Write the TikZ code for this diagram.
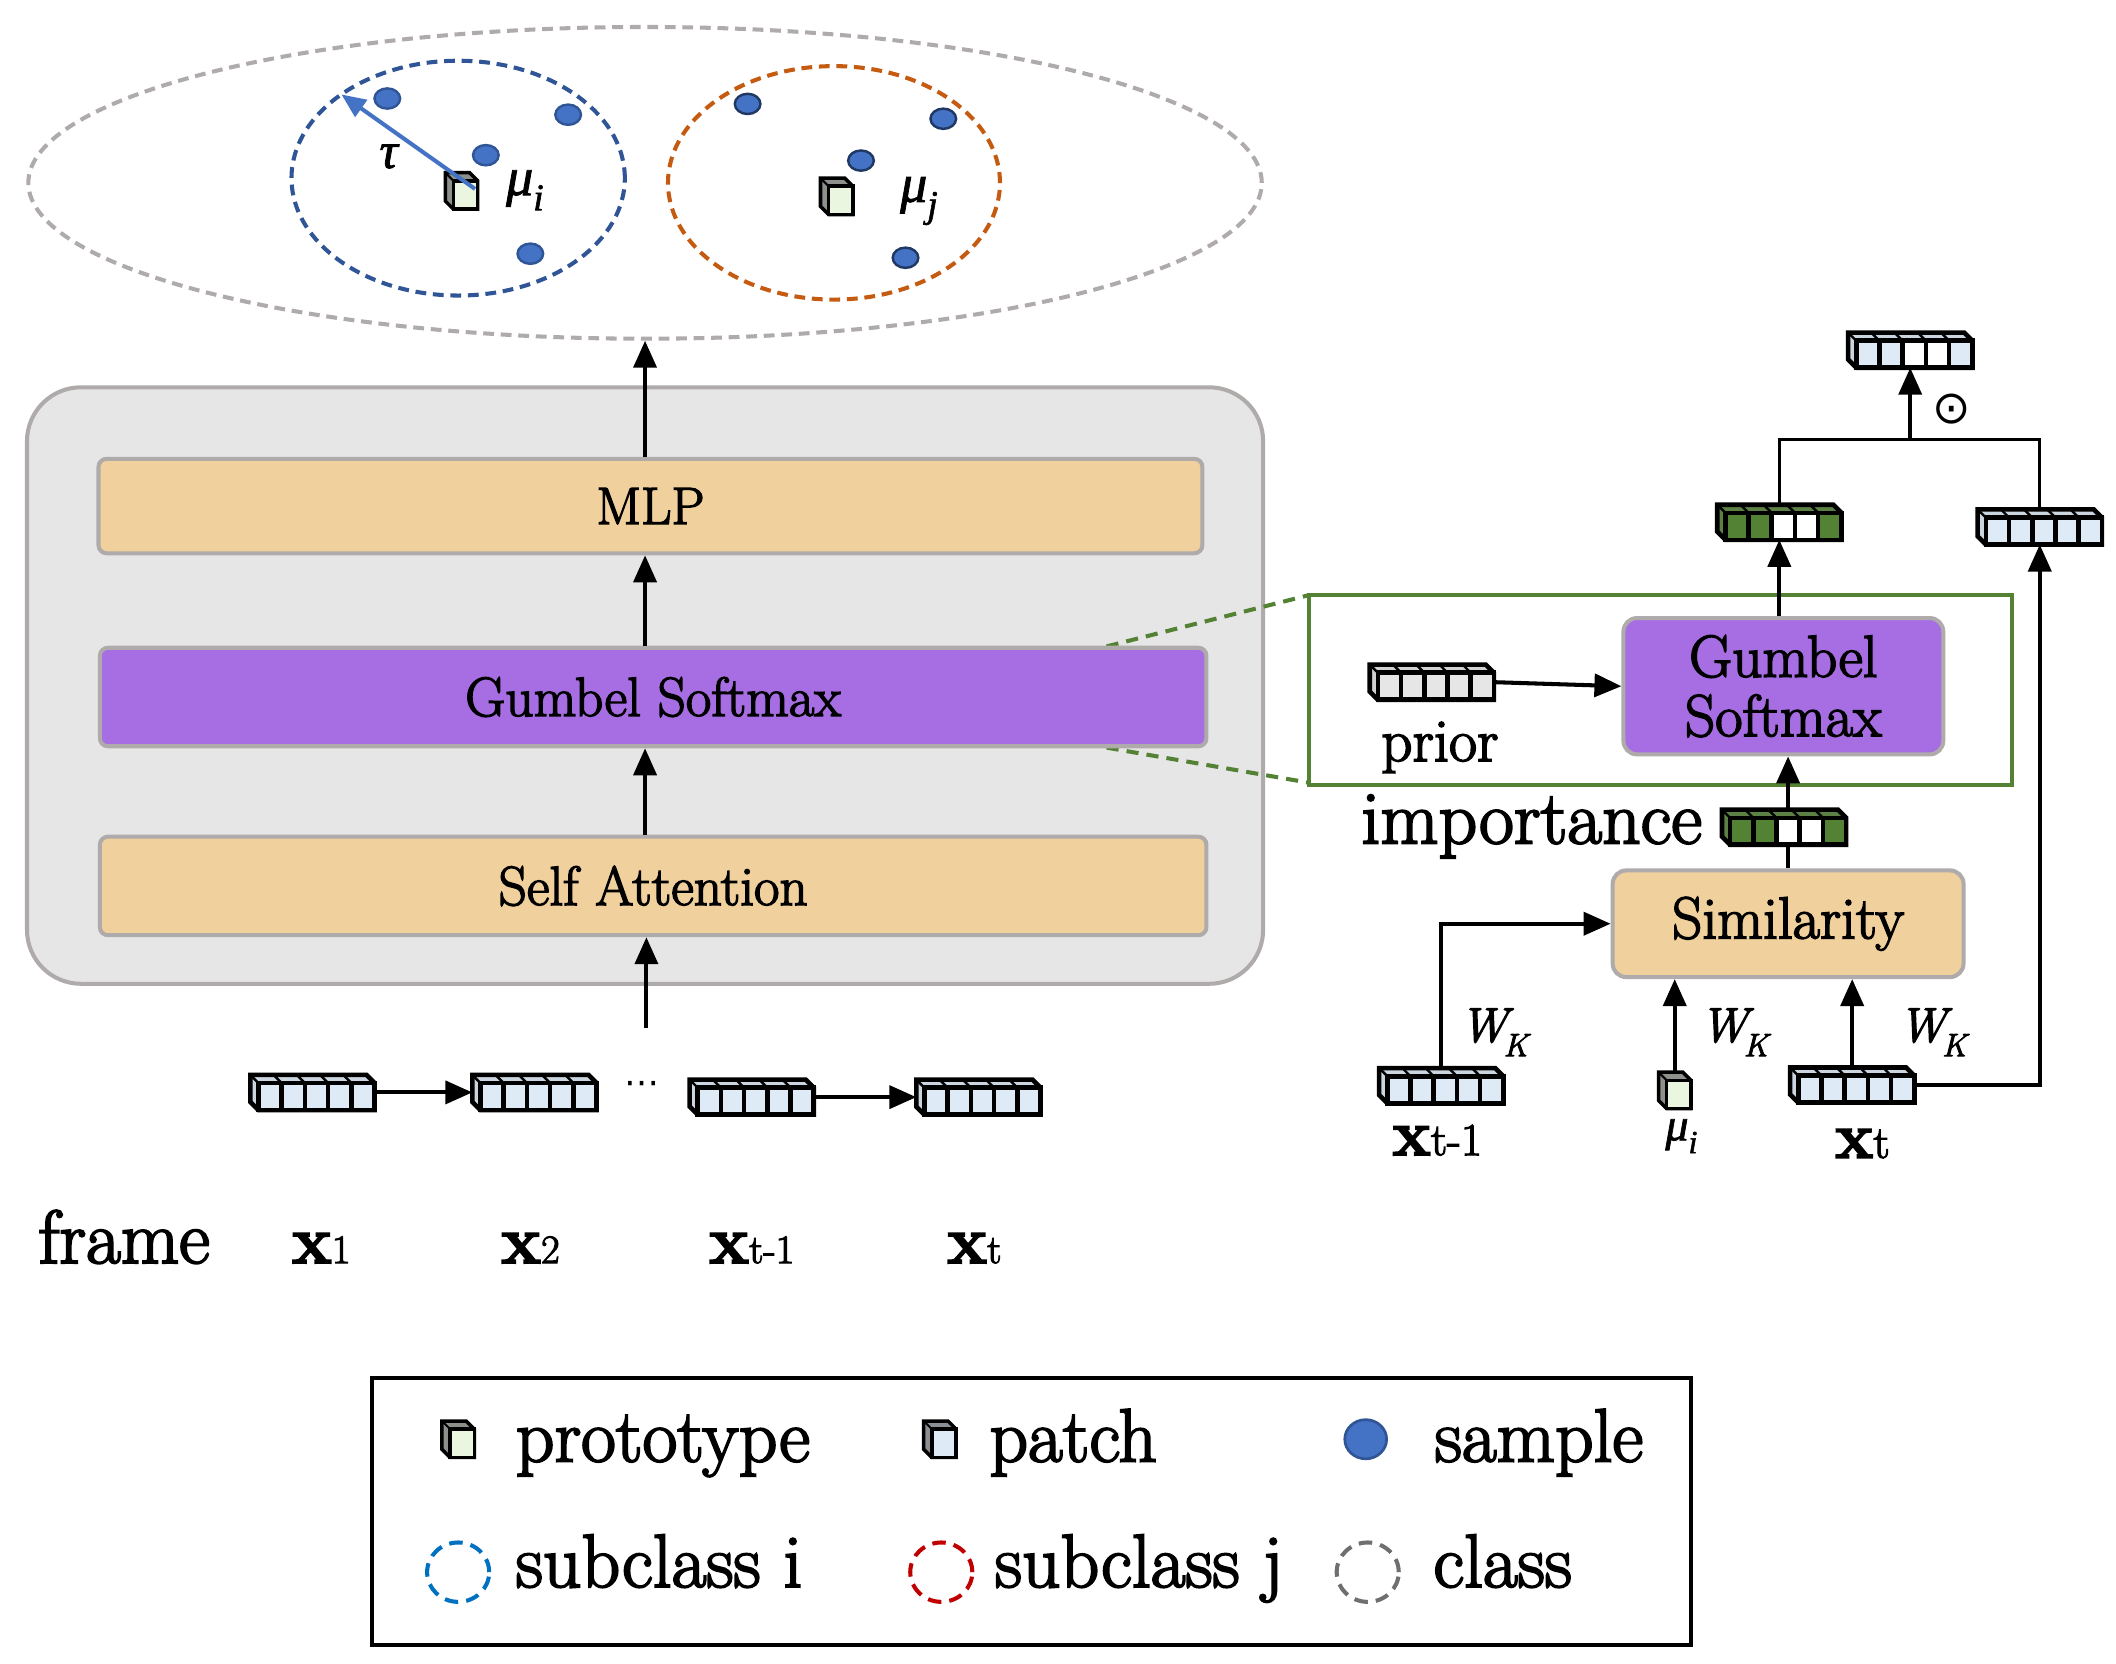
\documentclass[tikz,border=0pt]{standalone}
\usepackage{fontspec}
\setmainfont{Latin Modern Roman}[FakeBold=2.6]
\newfontfamily\grk{Liberation Serif}[FakeBold=1.5]
\newfontfamily\djv{DejaVu Sans}
\usetikzlibrary{arrows.meta,shapes.geometric}
\definecolor{peach}{HTML}{F0D09C}
\definecolor{purp}{HTML}{A66EE2}
\definecolor{cgray}{HTML}{AFABAB}
\definecolor{graybg}{HTML}{E7E6E6}
\definecolor{lblue}{HTML}{DEEBF7}
\definecolor{ggreen}{HTML}{548235}
\definecolor{lgray}{HTML}{E7E6E6}
\definecolor{sblue}{HTML}{4472C4}
\definecolor{dblue}{HTML}{2F5597}
\definecolor{navy}{HTML}{1F3864}
\definecolor{orng}{HTML}{C55A11}
\definecolor{pgreen}{HTML}{EBF6E0}
\definecolor{lgblue}{HTML}{0070C0}
\definecolor{lred}{HTML}{C00000}
\definecolor{lgr}{HTML}{6F6F6F}
\newcommand{\fsz}[1]{\fontsize{#1}{#1}\selectfont}
\newcommand{\gmu}[3]{{\fsz{#1}\grk\itshape μ\raisebox{-0.28em}{\fsz{#2}#3}}}
\newcommand{\wk}[1]{{\fsz{#1}\itshape W\kern-0.08em\raisebox{-0.3em}{\fsz{24}K}}}
\tikzset{
  pbox/.style={draw=cgray, line width=3pt, rounded corners=6pt, inner sep=0pt},
  arr/.style={line width=3pt, -{Triangle[length=20pt,width=17pt]}},
  thinln/.style={line width=2.2pt},
  barnode/.style={minimum width=92pt, minimum height=26pt, inner sep=0pt, outer sep=0pt},
  cubenode/.style={minimum width=24pt, minimum height=27pt, inner sep=0pt, outer sep=0pt},
  barline/.style={line width=3.4pt, line join=miter},
  smp/.style={ellipse, fill=sblue, draw=dblue, line width=1.8pt, minimum width=19pt, minimum height=15pt, inner sep=0pt},
  gdash/.style={draw=ggreen, line width=3pt, dash pattern=on 9pt off 6pt},
  lgc/.style={ellipse, line width=3pt, dash pattern=on 10pt off 6pt, minimum width=46pt, minimum height=44pt, inner sep=0pt},
}
\newcommand{\vbar}[8]{%
  \node[barnode] (#1) at (#2,#3) {};
  \begin{scope}[shift={(#1.north west)}]
    \filldraw[barline, fill=#4!80!gray] (0,0) -- (86,0) -- (92,6) -- (92,26) -- (6,26) -- (0,20) -- cycle;
    \foreach \c [count=\i from 0] in {#4,#5,#6,#7,#8} {
      \filldraw[barline, fill=\c] ({6+\i*17.2},6) rectangle ({6+(\i+1)*17.2},26);
      \draw[line width=1.8pt] ({6+\i*17.2},6) -- ({\i*17.2},0);
    }
  \end{scope}}
\newcommand{\vcube}[4]{%
  \node[cubenode] (#1) at (#2,#3) {};
  \begin{scope}[shift={(#1.north west)}]
    \filldraw[line width=2.6pt, line join=miter, fill=#4!40!black!70] (0,0) -- (18,0) -- (24,6) -- (24,27) -- (6,27) -- (0,21) -- cycle;
    \filldraw[line width=2.6pt, fill=#4] (6,6) rectangle (24,27);
    \draw[line width=1.5pt] (0,0) -- (6,6);
  \end{scope}}
\begin{document}
\begin{tikzpicture}[x=1pt,y=-1pt]
\useasboundingbox (0,0) rectangle (1568,1233);
\fill[white] (0,0) rectangle (1568,1233);

% ---------- top cluster ----------
\node[ellipse, draw=cgray, line width=3pt, dash pattern=on 8pt off 5pt, minimum width=914pt, minimum height=231pt, inner sep=0pt] (cls) at (478,135.5) {};
\node[ellipse, draw=dblue, line width=3pt, dash pattern=on 8pt off 5pt, minimum width=247pt, minimum height=174pt, inner sep=0pt] (subi) at (339.5,132) {};
\node[ellipse, draw=orng, line width=3pt, dash pattern=on 8pt off 5pt, minimum width=246pt, minimum height=173pt, inner sep=0pt] (subj) at (618,135.5) {};
\node[smp] (si1) at (287,73) {};
\node[smp] (si2) at (421,85) {};
\node[smp] (si3) at (360,115) {};
\node[smp] (si4) at (393,188) {};
\node[smp, draw=navy] (sj1) at (554,77) {};
\node[smp, draw=navy] (sj2) at (699,88) {};
\node[smp, draw=navy] (sj3) at (638,119) {};
\node[smp, draw=navy] (sj4) at (671,191) {};
\vcube{p1}{342}{141.5}{pgreen}
\vcube{p2}{620}{145.5}{pgreen}
\coordinate (tautip) at (253,70);
\draw[line width=3pt, -{Triangle[length=18pt,width=15pt]}, color=sblue] (352,140) -- (tautip);
\node (taul) at (288,116) {\fsz{38}\grk\itshape τ};
\node (mui) at (389,141) {\gmu{40}{28}{i}};
\node (muj) at (681,149) {\gmu{40}{28}{j}};

% ---------- encoder ----------
\node[draw=cgray, fill=graybg, line width=3pt, rounded corners=40pt, minimum width=916pt, minimum height=442pt, inner sep=0pt] (enc) at (478,508) {};
\node[pbox, fill=peach, minimum width=818pt, minimum height=70pt] (mlp) at (482,375) {\fsz{39}MLP};
\draw[gdash] (820,479) -- (970,441);
\draw[gdash] (820,554) -- (970,580);
\node[pbox, fill=purp, minimum width=820pt, minimum height=73pt] (gs) at (484,516.5) {\fsz{41}Gumbel Softmax};
\node[pbox, fill=peach, minimum width=820pt, minimum height=73pt] (sa) at (484,656.5) {\fsz{41}Self Attention};
\draw[arr] (cls.south |- mlp.north) -- (cls.south);
\draw[arr] (gs.north -| cls.south) -- (mlp.south -| cls.south);
\draw[arr] (sa.north -| cls.south) -- (gs.south -| cls.south);
\coordinate (inp) at (479,762);
\draw[arr] (inp) -- (inp |- sa.south);

% ---------- frame row ----------
\vbar{b1}{231.5}{809.5}{lblue}{lblue}{lblue}{lblue}{lblue}
\vbar{b2}{396}{809.5}{lblue}{lblue}{lblue}{lblue}{lblue}
\vbar{b3}{557}{813}{lblue}{lblue}{lblue}{lblue}{lblue}
\vbar{b4}{725}{813}{lblue}{lblue}{lblue}{lblue}{lblue}
\draw[arr] (b1.east) -- (b2.west);
\draw[arr] (b3.east) -- (b4.west);
\node (dots) at (476,806) {\fsz{26}\djv ⋯};
\node[anchor=base] (lfr) at (92,936) {\fsz{56}frame};
\node[anchor=base] (lx1) at (238,936) {\fsz{50}\textbf{x}\fsz{30}1};
\node[anchor=base] (lx2) at (393,936) {\fsz{50}\textbf{x}\fsz{30}2};
\node[anchor=base] (lx3) at (557,936) {\fsz{50}\textbf{x}\fsz{30}t-1};
\node[anchor=base] (lx4) at (722,936) {\fsz{50}\textbf{x}\fsz{30}t};

% ---------- right detail ----------
\node[draw=ggreen, line width=3pt, minimum width=521pt, minimum height=141pt, inner sep=0pt] (zoomr) at (1230.5,511.5) {};
\vbar{prior}{1061}{505.5}{lgray}{lgray}{lgray}{lgray}{lgray}
\node[anchor=base] (lprior) at (1067,564) {\fsz{45}prior};
\node[pbox, fill=purp, rounded corners=10pt, minimum width=237pt, minimum height=101pt, align=center, font={\fontsize{44}{44}\selectfont}] (gs2) at (1321.5,508.5) {Gumbel\\Softmax};
\draw[arr] (prior.east) -- (gs2.west);
\node[pbox, fill=peach, rounded corners=10pt, minimum width=260pt, minimum height=79pt] (sim) at (1325,684.5) {\fsz{44}Similarity};
\draw[arr] (sim.north) -- (sim.north |- gs2.south);
\vbar{imp}{1322}{613}{ggreen}{ggreen}{white}{white}{ggreen}
\node[anchor=base] (limp) at (1135,625) {\fsz{56}importance};
\vbar{gbar}{1318.5}{387}{ggreen}{ggreen}{white}{white}{ggreen}
\vbar{bbar}{1511.5}{390.5}{lblue}{lblue}{lblue}{lblue}{lblue}
\vbar{top}{1415.5}{259.5}{lblue}{lblue}{white}{white}{lblue}
\draw[arr] (gbar.south |- gs2.north) -- (gbar.south);
\coordinate (jn) at (1415.5,326);
\draw[thinln] (gbar.north) |- (jn) -| (bbar.north);
\draw[arr] (jn) -- (top.south);
\node (odot) at (1446,303) {\fsz{34}\djv ⊙};

\vbar{xtm1}{1068}{804.5}{lblue}{lblue}{lblue}{lblue}{lblue}
\vcube{mu}{1241}{808}{pgreen}
\vbar{xt}{1372.5}{804}{lblue}{lblue}{lblue}{lblue}{lblue}
\draw[arr] (xtm1.north) |- (sim.west);
\draw[arr] (mu.north) -- (mu.north |- sim.south);
\draw[arr] (xt.north) -- (xt.north |- sim.south);
\draw[arr] (xt.east) -| (bbar.south);
\node (wk1) at (1107,765) {\wk{36}};
\node (wk2) at (1285,765) {\wk{36}};
\node (wk3) at (1432,765) {\wk{36}};
\node[anchor=base] (lxtm1) at (1065,856) {\fsz{48}\textbf{x}\fsz{34}t-1};
\node (lmu) at (1246,842) {\gmu{34}{24}{i}};
\node[anchor=base] (lxt) at (1380,858) {\fsz{48}\textbf{x}\fsz{34}t};

% ---------- legend ----------
\node[draw, line width=3pt, minimum width=977pt, minimum height=198pt, inner sep=0pt] (legend) at (764.5,1120) {};
\vcube{lp1}{339.5}{1066.5}{pgreen}
\node[anchor=base west, inner sep=0pt] (t1) at (382,1083) {\fsz{56}prototype};
\vcube{lp2}{696.5}{1066.5}{lblue}
\node[anchor=base west, inner sep=0pt] (t2) at (733,1083) {\fsz{56}patch};
\node[smp, minimum width=31pt, minimum height=29pt, line width=2pt] (ls) at (1012,1066.5) {};
\node[anchor=base west, inner sep=0pt] (t3) at (1063,1083) {\fsz{56}sample};
\node[lgc, draw=lgblue] (lc1) at (339.5,1165) {};
\node[anchor=base west, inner sep=0pt] (t4) at (382,1176) {\fsz{56}subclass i};
\node[lgc, draw=lred] (lc2) at (697.5,1165) {};
\node[anchor=base west, inner sep=0pt] (t5) at (737,1176) {\fsz{56}subclass j};
\node[lgc, draw=lgr] (lc3) at (1013.5,1165) {};
\node[anchor=base west, inner sep=0pt] (t6) at (1062,1176) {\fsz{56}class};
\end{tikzpicture}
\end{document}
